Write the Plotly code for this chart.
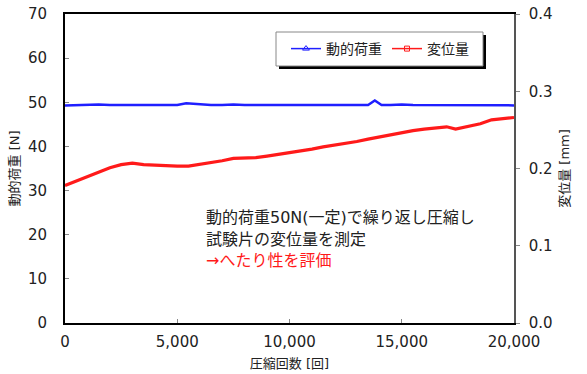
import plotly.graph_objects as go

# ---- data ----
load_cycles = [0, 500, 1000, 1500, 2000, 2500, 3000, 3500, 4000, 4500, 5000, 5400, 6000, 6500, 7000,
               7500, 8000, 8500, 9000, 9500, 10000, 10500, 11000, 11500, 12000, 12500, 13000,
               13500, 13800, 14100, 14500, 15000, 15500, 16000, 16500, 17000, 17500, 18000,
               18500, 19000, 19500, 20000]
load_N = [49.3, 49.4, 49.4, 49.5, 49.4, 49.4, 49.5, 49.4, 49.4, 49.5, 49.4, 49.8, 49.5, 49.4, 49.4,
          49.5, 49.4, 49.4, 49.5, 49.4, 49.4, 49.5, 49.4, 49.4, 49.5, 49.4, 49.4,
          49.4, 50.4, 49.4, 49.4, 49.5, 49.4, 49.4, 49.3, 49.3, 49.4, 49.3,
          49.3, 49.4, 49.3, 49.3]

disp_cycles = [0, 500, 1000, 1500, 2000, 2500, 3000, 3500, 4000, 4500, 5000, 5500, 6000, 6500,
               7000, 7500, 8000, 8500, 9000, 9500, 10000, 10500, 11000, 11500, 12000, 12500,
               13000, 13500, 14000, 14500, 15000, 15500, 16000, 16500, 17000, 17400, 18000,
               18500, 19000, 19500, 20000]
disp_mm = [0.178, 0.184, 0.190, 0.196, 0.201, 0.205, 0.207, 0.205, 0.204, 0.203, 0.203, 0.203,
           0.205, 0.207, 0.210, 0.213, 0.213, 0.214, 0.216, 0.218, 0.221, 0.223, 0.225, 0.228,
           0.230, 0.233, 0.235, 0.238, 0.241, 0.243, 0.246, 0.249, 0.251, 0.253, 0.254, 0.251,
           0.255, 0.258, 0.263, 0.265, 0.266]

x_ticks = [0, 5000, 10000, 15000, 20000]
name_load = "動的荷重"
name_disp = "変位量"
note_lines = ["動的荷重50N(一定)で繰り返し圧縮し", "試験片の変位量を測定", "→へたり性を評価"]

FONT = "DejaVu Sans, Noto Sans CJK JP"
BLUE = "#1f1fff"
RED = "#ff1a1a"

fig = go.Figure()
fig.add_trace(go.Scatter(x=load_cycles, y=load_N, mode="lines", line=dict(color=BLUE, width=2.5),
                         showlegend=False, yaxis="y"))
fig.add_trace(go.Scatter(x=disp_cycles, y=disp_mm, mode="lines", line=dict(color=RED, width=3.2),
                         showlegend=False, yaxis="y2"))
# legend entries
fig.add_trace(go.Scatter(x=[None], y=[None], mode="lines+markers", name=name_load,
                         line=dict(color=BLUE, width=1.5),
                         marker=dict(symbol="triangle-up-open", size=6, color=BLUE)))
fig.add_trace(go.Scatter(x=[None], y=[None], mode="lines+markers", name=name_disp,
                         line=dict(color=RED, width=1.5),
                         marker=dict(symbol="square-open", size=5, color=RED), yaxis="y2"))

L, R, T, B = 65, 514, 14, 323
W, H = 587, 374
pw, ph = R - L, B - T

def px(xp):
    return (xp - L) / pw

def py(yp):
    return 1 - (yp - T) / ph

# legend box + shadow
fig.add_shape(type="rect", xref="paper", yref="paper", x0=px(279), x1=px(486), y0=py(69), y1=py(35),
              fillcolor="black", line=dict(width=0), layer="above")
fig.add_shape(type="rect", xref="paper", yref="paper", x0=px(276), x1=px(483), y0=py(66), y1=py(32),
              fillcolor="white", line=dict(color="#888888", width=1), layer="above")

for i, (t, yc) in enumerate(zip(note_lines, [217, 239, 260])):
    fig.add_annotation(xref="paper", yref="paper", x=px(204), y=py(yc), text=t, showarrow=False,
                       xanchor="left", yanchor="middle",
                       font=dict(family=FONT, size=16, color=RED if i == 2 else "#222222"))

fig.update_layout(
    width=W, height=H,
    margin=dict(l=L, r=W - R, t=T, b=H - B),
    plot_bgcolor="white", paper_bgcolor="white",
    font=dict(family=FONT, size=15, color="#222222"),
    showlegend=True,
    legend=dict(orientation="h", x=px(286), xanchor="left", y=py(49), yanchor="middle",
                bgcolor="rgba(0,0,0,0)", borderwidth=0, font=dict(size=14, family=FONT),
                itemwidth=30, tracegroupgap=0),
    xaxis=dict(range=[0, 20000], tickvals=x_ticks, tickformat=",", ticks="inside", ticklen=4,
               tickcolor="#888888", showline=True, linecolor="black", linewidth=2, mirror=True,
               showgrid=False, zeroline=False, automargin=False, ticklabelstandoff=4,
               title=dict(text="圧縮回数 [回]", font=dict(size=13), standoff=9)),
    yaxis=dict(range=[0, 70], dtick=10, ticks="inside", ticklen=4, tickcolor="#888888",
               showline=True, linecolor="black", linewidth=2, showgrid=False, zeroline=False,
               ticklabelstandoff=13, automargin=False,
               title=dict(text="動的荷重 [N]", font=dict(size=13), standoff=5)),
    yaxis2=dict(range=[0, 0.4], dtick=0.1, tickformat=".1f", overlaying="y", side="right",
                ticks="outside", ticklen=4, tickcolor="#888888", automargin=False,
                showline=True, linecolor="#555555", linewidth=1.5, showgrid=False, zeroline=False,
                ticklabelstandoff=6,
                title=dict(text="変位量 [mm]", font=dict(size=13), standoff=8)),
)

fig.write_html("out.html", config={"displayModeBar": False},
               post_script="document.body.style.margin='0';")
